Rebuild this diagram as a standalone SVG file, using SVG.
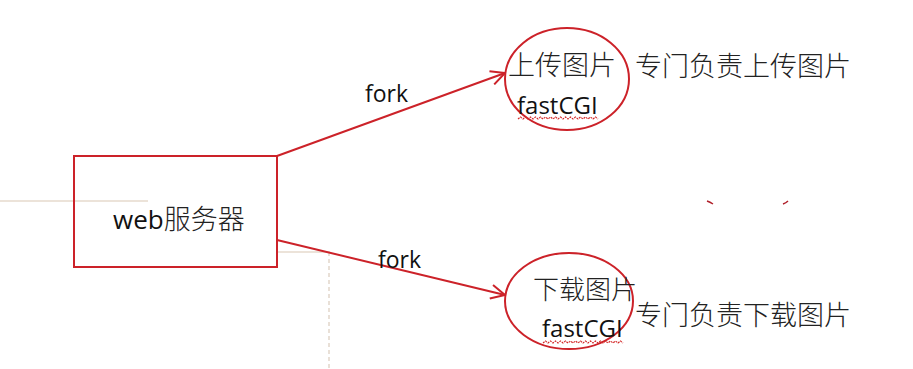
<svg xmlns="http://www.w3.org/2000/svg" width="913" height="369" viewBox="0 0 913 369">
<style>
.red{fill:none;stroke:#cc2229;stroke-width:2}
.lat{font-family:"Open Sans","Liberation Sans",sans-serif;fill:#111}
.cjk{font-family:"Noto Sans CJK SC","Noto Sans",sans-serif;fill:#222;font-weight:300}
.wave{fill:none;stroke:#d42a2a;stroke-width:1.2;stroke-dasharray:2 1}
.faint{fill:none;stroke:#ece3d9;stroke-width:2}
</style>
<defs>
<marker id="ah" viewBox="0 0 16 16" refX="15" refY="8" markerWidth="16" markerHeight="16" markerUnits="userSpaceOnUse" orient="auto">
<path d="M1,1 L15,8 L1,15" fill="none" stroke="#cc2229" stroke-width="2"/>
</marker>
</defs>
<rect width="913" height="369" fill="#fff"/>
<g id="artifacts">
<line class="faint" x1="0" y1="201" x2="148" y2="201"/>
<line class="faint" x1="278" y1="252" x2="330" y2="252"/>
<line x1="329" y1="252" x2="329" y2="369" stroke="#e2d6ca" stroke-width="1.5" stroke-dasharray="4 3"/>
<path d="M707,201 q3,1 6,3" fill="none" stroke="#b0202a" stroke-width="1.5"/>
<path d="M783,204 q3,-1 5,-3" fill="none" stroke="#b0202a" stroke-width="1.5"/>
</g>
<g id="connectors">
<line class="red" x1="277" y1="156" x2="505" y2="73" marker-end="url(#ah)"/>
<line class="red" x1="277" y1="240" x2="505" y2="295" marker-end="url(#ah)"/>
<text class="lat" x="365" y="102" font-size="23">fork</text>
<text class="lat" x="378" y="268" font-size="23">fork</text>
</g>
<g id="web">
<rect class="red" x="74" y="156" width="203" height="111"/>
<text x="113" y="229" font-size="26"><tspan class="lat">web</tspan><tspan class="cjk" font-size="27">服务器</tspan></text>
</g>
<g id="upload">
<ellipse class="red" cx="567" cy="79" rx="62" ry="51"/>
<text class="cjk" x="508" y="75" font-size="27">上传图片</text>
<text class="lat" x="517" y="114" font-size="24">fastCGI</text>
<path class="wave" d="M518,119 l2.5,-2 l2.5,2 l2.5,-2 l2.5,2 l2.5,-2 l2.5,2 l2.5,-2 l2.5,2 l2.5,-2 l2.5,2 l2.5,-2 l2.5,2 l2.5,-2 l2.5,2 l2.5,-2 l2.5,2 l2.5,-2 l2.5,2 l2.5,-2 l2.5,2 l2.5,-2 l2.5,2 l2.5,-2 l2.5,2 l2.5,-2 l2.5,2 l2.5,-2 l2.5,2 l2.5,-2 l2.5,2 l2.5,-2 l2.5,2"/>
</g>
<text id="upload-desc" class="cjk" x="635" y="76" font-size="27">专门负责上传图片</text>
<g id="download">
<ellipse class="red" cx="569" cy="301" rx="64" ry="48"/>
<text class="cjk" x="533" y="299" font-size="26">下载图片</text>
<text class="lat" x="542" y="337" font-size="24">fastCGI</text>
<path class="wave" d="M543,343 l2.5,-2 l2.5,2 l2.5,-2 l2.5,2 l2.5,-2 l2.5,2 l2.5,-2 l2.5,2 l2.5,-2 l2.5,2 l2.5,-2 l2.5,2 l2.5,-2 l2.5,2 l2.5,-2 l2.5,2 l2.5,-2 l2.5,2 l2.5,-2 l2.5,2 l2.5,-2 l2.5,2 l2.5,-2 l2.5,2 l2.5,-2 l2.5,2 l2.5,-2 l2.5,2 l2.5,-2 l2.5,2 l2.5,-2 l2.5,2"/>
</g>
<text id="download-desc" class="cjk" x="635" y="325" font-size="27">专门负责下载图片</text>
</svg>
